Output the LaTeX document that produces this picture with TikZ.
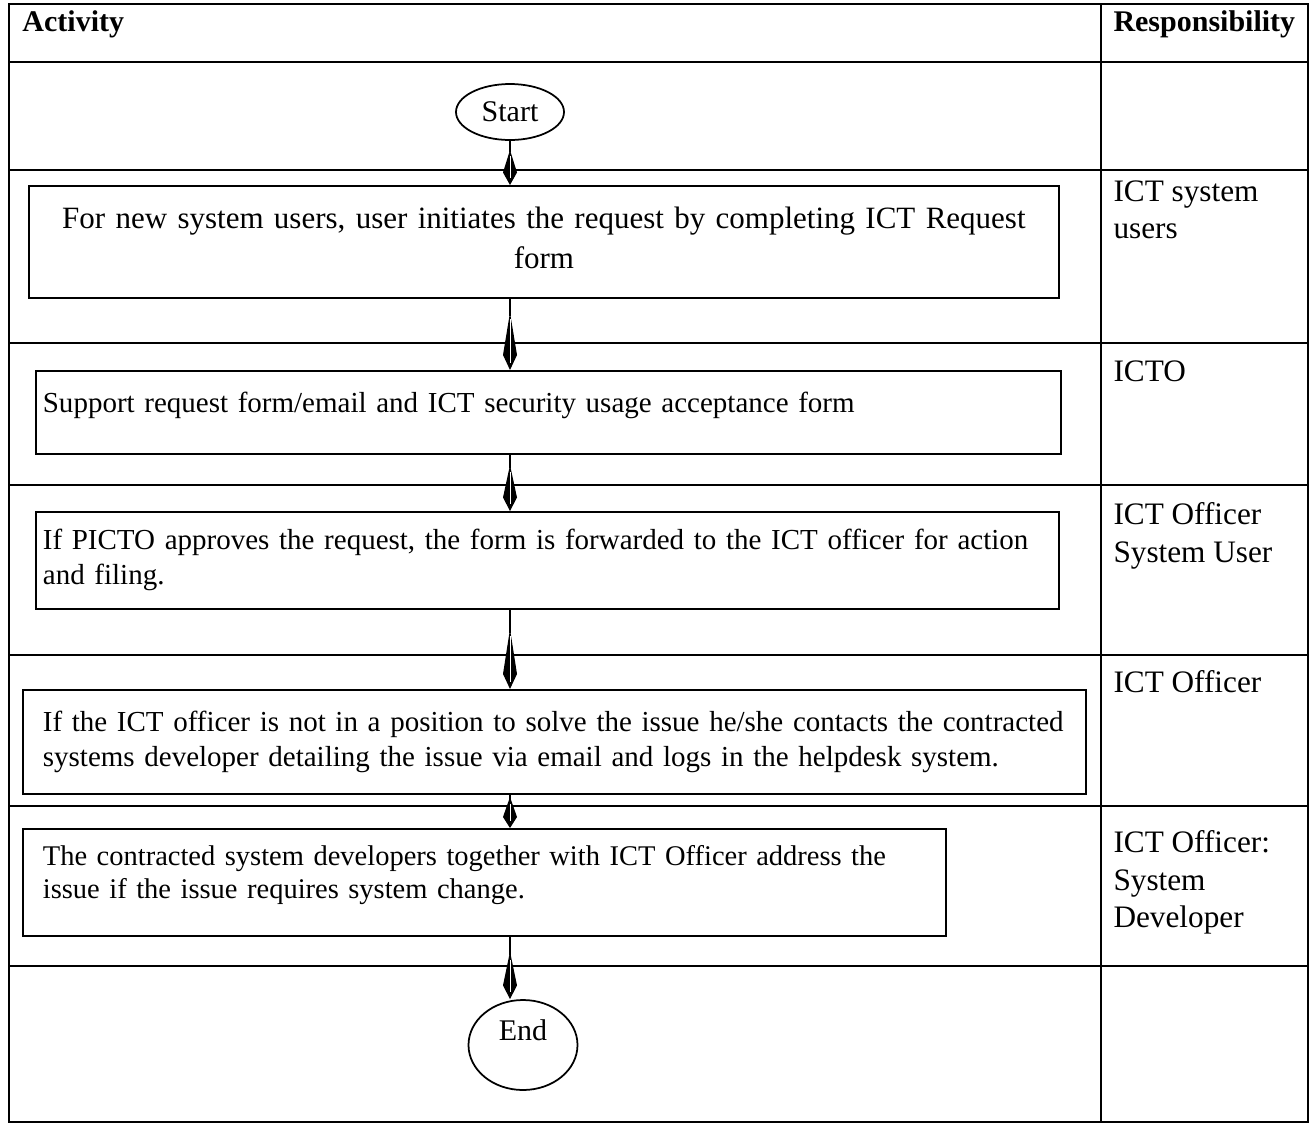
\documentclass[tikz,border=0pt]{standalone}
\usepackage{fontspec}
\setmainfont{Liberation Serif}
\usetikzlibrary{arrows.meta}
\usetikzlibrary{shapes.geometric}
\tikzset{
	tableline/.style = {
		line width=1.1pt
	},
	headcell/.style = {
		anchor=north west,
		inner sep=0pt,
		font=\fontsize{12}{15}\selectfont\bfseries
	},
	respcell/.style = {
		anchor=north west,
		inner sep=0pt,
		align=left,
		font=\fontsize{12.5}{15}\selectfont
	},
	stepbox/.style = {
		draw,
		rectangle,
		line width=0.7pt,
		anchor=north west,
		inner ysep=0pt,
		align=left,
		font=\fontsize{11.6}{14}\selectfont
	},
	terminal/.style = {
		draw,
		ellipse,
		line width=0.7pt,
		inner sep=0pt,
		font=\fontsize{12}{14}\selectfont
	},
	flow/.style n args = {3}{
		line width=0.5pt,
		-{Kite[length=#1, width=5.6pt, inset=#2]},
		postaction={draw=white, line width=0.4pt, arrows=-, shorten <=#3, shorten >=3pt}
	},
}

\begin{document}
\begin{tikzpicture}[x=0.4pt, y=-0.4pt]
\useasboundingbox (0,0) rectangle (1314,1127);
\draw[tableline] (9,4) rectangle (1308,1122);
\draw[tableline] (1101,4) -- (1101,1122);
\foreach \y in {62,170,343,485,655,806,966}
	\draw[tableline] (9,\y) -- (1308,\y);

\node[headcell] (acthead) at (22,10) {Activity};
\node[headcell] (resphead) at (1113,10) {Responsibility};

\node[terminal, minimum width=43.2pt, minimum height=22.4pt] (start) at (510,112) {Start};
\node[stepbox, align=center, minimum width=412pt, minimum height=44.8pt, text width=400pt, inner xsep=6pt, text depth=19.5pt, font=\fontsize{12.4}{16}\selectfont] (b1) at (28,185) {For new system users, user initiates the request by completing ICT Request\\form};
\node[stepbox, minimum width=410pt, minimum height=33.2pt, text width=404.4pt, inner xsep=2.8pt, text depth=8pt] (b2) at (35,370) {Support request form/email and ICT security usage acceptance form};
\node[stepbox, minimum width=409.2pt, minimum height=38.8pt, text width=403.6pt, inner xsep=2.8pt] (b3) at (35,511) {If PICTO approves the request, the form is forwarded to the ICT officer for action\\and filing.};
\node[stepbox, minimum width=425.2pt, minimum height=41.6pt, text width=409.2pt, inner xsep=8pt] (b4) at (22,689) {If the ICT officer is not in a position to solve the issue he/she contacts the contracted\\systems developer detailing the issue via email and logs in the helpdesk system.};
\node[stepbox, minimum width=369.2pt, minimum height=42.8pt, text width=353.2pt, inner xsep=8pt, text depth=21.5pt, font=\fontsize{11.4}{13}\selectfont] (b5) at (22,828) {The contracted system developers together with ICT Officer address the\\issue if the issue requires system change.};
\node[terminal, minimum width=43.6pt, minimum height=36pt, text depth=12pt] (end) at (523,1045) {End};

\draw[flow={14pt}{9pt}{6pt}] (start) -- (start |- b1.north);
\draw[flow={23pt}{17pt}{8.2pt}] (b1.south -| start) -- (b2.north -| start);
\draw[flow={18.4pt}{13pt}{6.8pt}] (b2.south -| start) -- (b3.north -| start);
\draw[flow={24pt}{18pt}{10.4pt}] (b3.south -| start) -- (b4.north -| start);
\draw[flow={12.4pt}{8pt}{3.6pt}] (b4.south -| start) -- (b5.north -| start);
\draw[flow={19pt}{13.5pt}{9.4pt}] (b5.south -| start) -- (end.north -| start);

\node[respcell] (r1) at (1113,180) {ICT system\\users};
\node[respcell] (r2) at (1113,360) {ICTO};
\node[respcell] (r3) at (1113,502) {ICT Officer\\System User};
\node[respcell] (r4) at (1113,670) {ICT Officer};
\node[respcell] (r5) at (1113,830) {ICT Officer:\\System\\Developer};
\end{tikzpicture}
\end{document}
